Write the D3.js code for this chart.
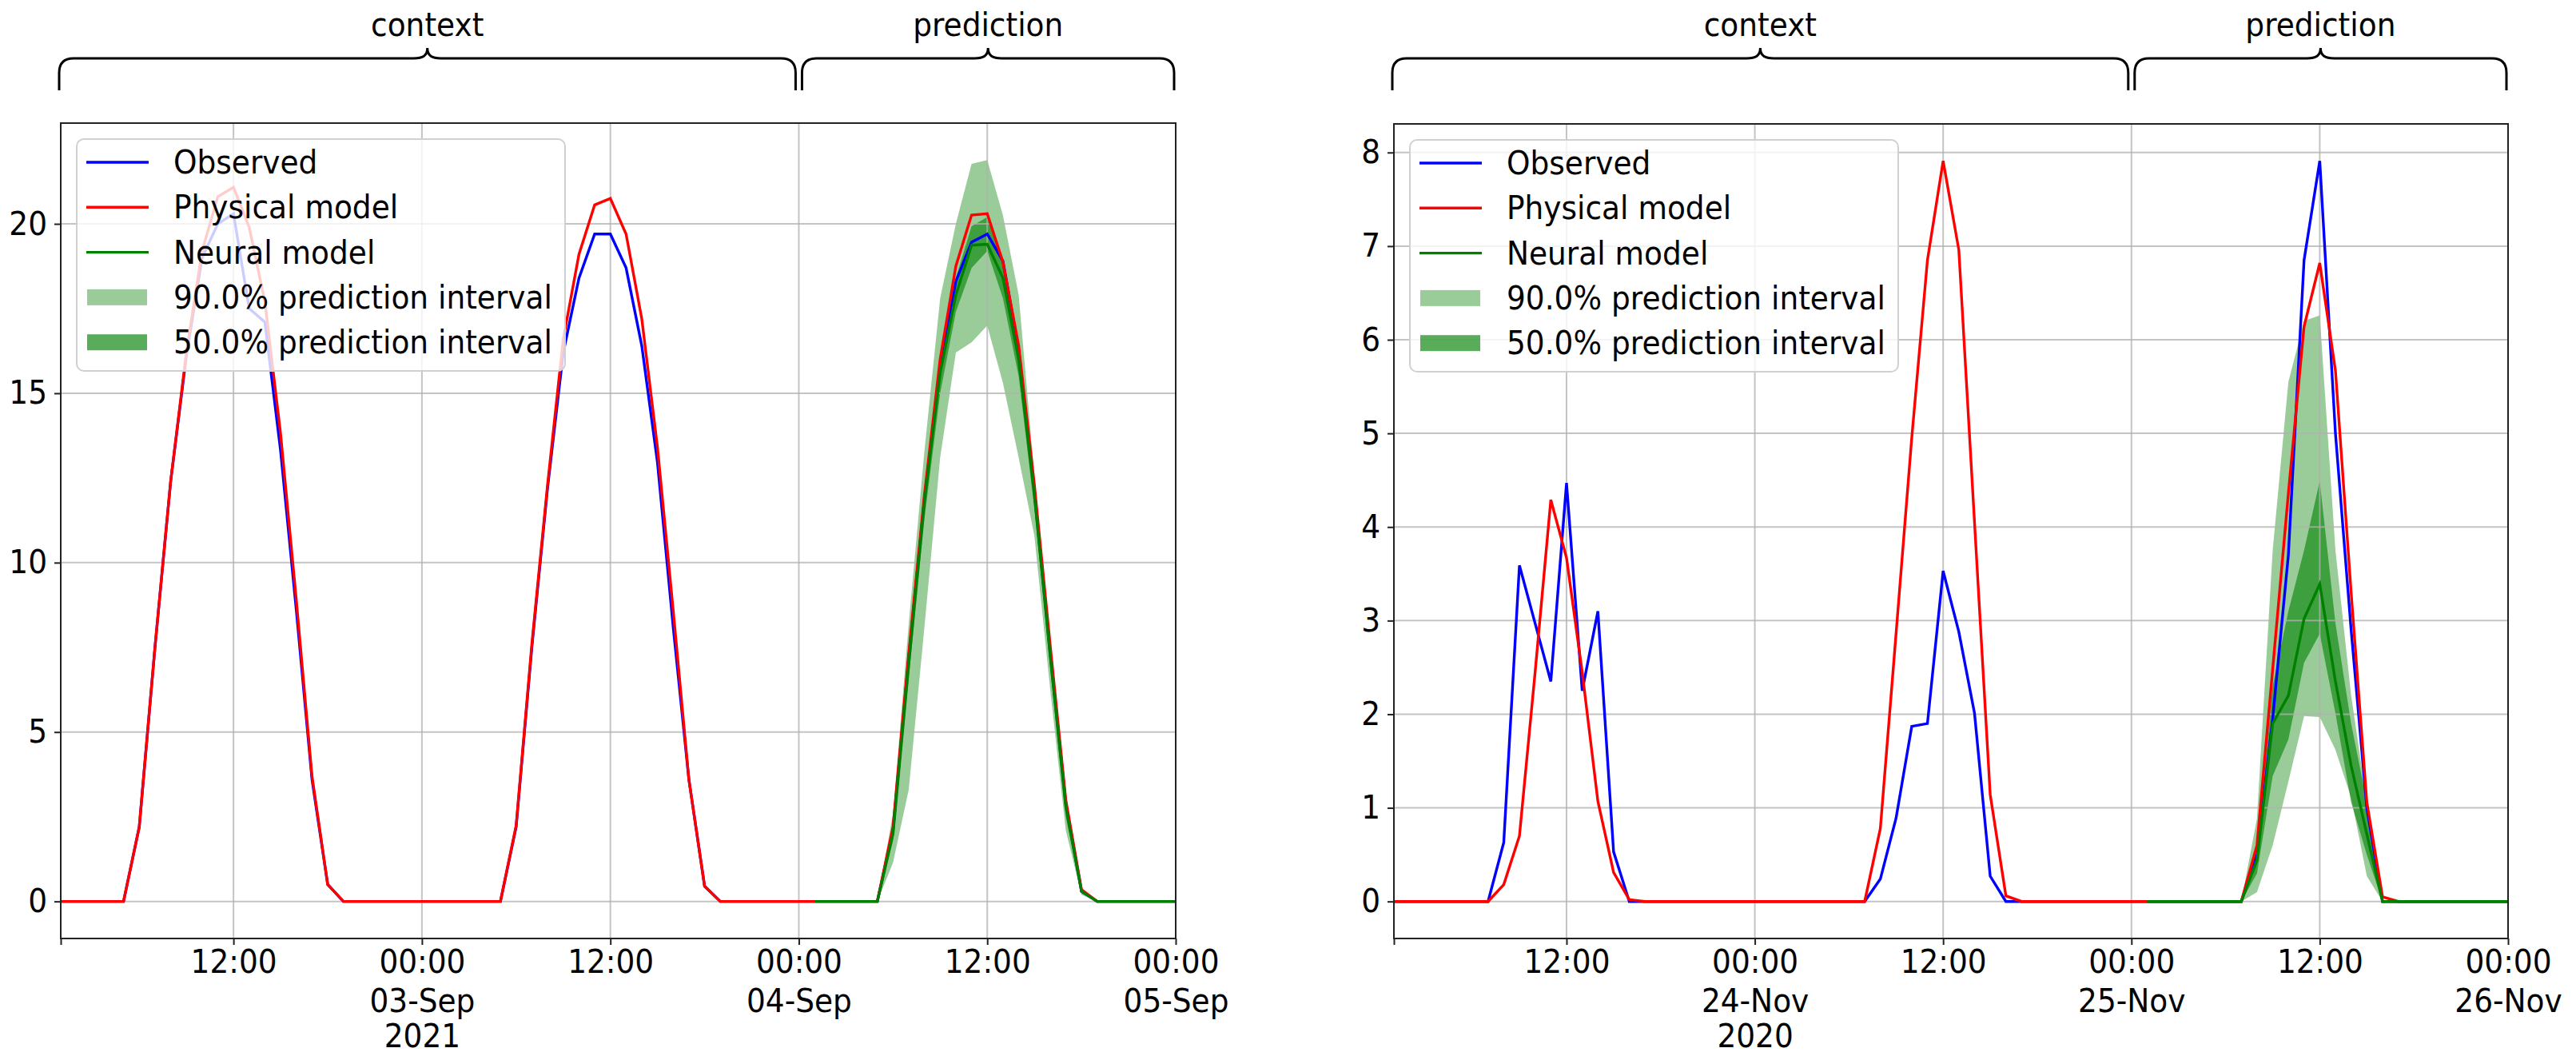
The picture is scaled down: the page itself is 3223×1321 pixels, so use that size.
<!DOCTYPE html>
<html>
<head>
<meta charset="utf-8">
<script src="https://cdn.jsdelivr.net/npm/d3@7"></script>
<style>
  body { margin: 0; background: #fff; }
  text { font-family: "DejaVu Sans", sans-serif; }
</style>
</head>
<body>
<svg id="chart" width="3223" height="1321"></svg>
<script>
// ---- data (hourly values) ----
var legendLabels = ["Observed", "Physical model", "Neural model", "90.0% prediction interval", "50.0% prediction interval"];

// left panel: 2021-09-02 01:00 .. 2021-09-05 00:00
var leftStart = "2021-09-02T01:00:00Z", leftEnd = "2021-09-05T00:00:00Z", leftSplit = "2021-09-04T00:00:00Z";
var leftObserved = [
  0, 0, 0, 0, 0, 2.2, 7.5, 12.4, 16.1, 19.0, 20.0, 20.3, 17.5, 17.1, 13.3, 8.6, 3.6, 0.5, 0, 0, 0, 0, 0, 0,
  0, 0, 0, 0, 0, 2.2, 7.5, 12.2, 16.2, 18.4, 19.7, 19.7, 18.7, 16.4, 12.95, 8.1, 3.6, 0.45, 0, 0, 0, 0, 0, 0,
  0, 0, 0, 0, 0, 2.1, 7.2, 11.9, 15.8, 18.3, 19.46, 19.7, 18.9, 16.3, 12.1, 7.4, 2.9, 0.3, 0, 0, 0, 0, 0, 0
];
var leftPhysical = [
  0, 0, 0, 0, 0, 2.2, 7.5, 12.4, 16.2, 19.2, 20.8, 21.08, 19.9, 17.7, 13.8, 8.9, 3.7, 0.5, 0, 0, 0, 0, 0, 0,
  0, 0, 0, 0, 0, 2.24, 7.6, 12.3, 16.6, 19.1, 20.56, 20.75, 19.7, 17.2, 13.4, 8.6, 3.6, 0.45, 0, 0, 0, 0, 0, 0,
  0, 0, 0, 0, 0, 2.2, 7.3, 12.0, 16.0, 18.75, 20.26, 20.3, 18.87, 16.4, 12.3, 7.6, 3.0, 0.35, 0, 0, 0, 0, 0, 0
];
var leftNeural = [0, 0, 0, 0, 0, 2.0, 7.0, 11.8, 15.6, 17.9, 19.37, 19.4, 18.4, 16.0, 12.0, 7.3, 2.8, 0.3, 0, 0, 0, 0, 0, 0];
var leftLow50  = [0, 0, 0, 0, 0, 1.8, 6.6, 11.3, 15.0, 17.4, 18.7, 19.2, 17.8, 15.5, 11.6, 6.9, 2.5, 0.25, 0, 0, 0, 0, 0, 0];
var leftHigh50 = [0, 0, 0, 0, 0, 2.2, 7.3, 12.1, 16.0, 18.4, 19.93, 20.2, 18.9, 16.4, 12.3, 7.6, 3.0, 0.35, 0, 0, 0, 0, 0, 0];
var leftLow90  = [0, 0, 0, 0, 0, 1.15, 3.3, 8.1, 13.1, 16.2, 16.5, 17.0, 15.3, 13.1, 10.8, 6.3, 2.1, 0.2, 0, 0, 0, 0, 0, 0];
var leftHigh90 = [0, 0, 0, 0, 0, 2.6, 8.2, 13.3, 17.8, 20.0, 21.77, 21.88, 20.25, 17.9, 12.6, 7.8, 3.2, 0.4, 0, 0, 0, 0, 0, 0];
var leftYTicks = [0, 5, 10, 15, 20];
var leftXTicks = ["2021-09-02T01:00:00Z", "2021-09-02T12:00:00Z", "2021-09-03T00:00:00Z", "2021-09-03T12:00:00Z",
                  "2021-09-04T00:00:00Z", "2021-09-04T12:00:00Z", "2021-09-05T00:00:00Z"];
var leftXTickLabels = [[], ["12:00"], ["00:00", "03-Sep", "2021"], ["12:00"], ["00:00", "04-Sep"], ["12:00"], ["00:00", "05-Sep"]];

// right panel: 2020-11-23 01:00 .. 2020-11-26 00:00
var rightStart = "2020-11-23T01:00:00Z", rightEnd = "2020-11-26T00:00:00Z", rightSplit = "2020-11-25T00:00:00Z";
var rightObserved = [
  0, 0, 0, 0, 0, 0, 0, 0.63, 3.59, 2.97, 2.35, 4.47, 2.25, 3.10, 0.53, 0, 0, 0, 0, 0, 0, 0, 0, 0,
  0, 0, 0, 0, 0, 0, 0, 0.24, 0.89, 1.87, 1.9, 3.53, 2.88, 2.01, 0.27, 0, 0, 0, 0, 0, 0, 0, 0, 0,
  0, 0, 0, 0, 0, 0, 0, 0.5, 1.95, 3.7, 6.85, 7.91, 5.0, 2.9, 1.0, 0, 0, 0, 0, 0, 0, 0, 0, 0
];
var rightPhysical = [
  0, 0, 0, 0, 0, 0, 0, 0.18, 0.70, 2.45, 4.29, 3.67, 2.45, 1.07, 0.31, 0.02, 0, 0, 0, 0, 0, 0, 0, 0,
  0, 0, 0, 0, 0, 0, 0, 0.78, 2.86, 4.95, 6.85, 7.91, 6.96, 4.05, 1.14, 0.06, 0, 0, 0, 0, 0, 0, 0, 0,
  0, 0, 0, 0, 0, 0, 0, 0.6, 2.48, 4.36, 6.14, 6.82, 5.67, 3.3, 1.06, 0.05, 0, 0, 0, 0, 0, 0, 0, 0
];
var rightNeural = [0, 0, 0, 0, 0, 0, 0, 0.44, 1.9, 2.2, 3.02, 3.39, 2.35, 1.45, 0.72, 0, 0, 0, 0, 0, 0, 0, 0, 0];
var rightLow50  = [0, 0, 0, 0, 0, 0, 0, 0.3, 1.34, 1.73, 2.55, 2.86, 2.01, 1.06, 0.5, 0, 0, 0, 0, 0, 0, 0, 0, 0];
var rightHigh50 = [0, 0, 0, 0, 0, 0, 0, 0.5, 2.3, 3.1, 3.75, 4.49, 2.97, 1.9, 1.06, 0, 0, 0, 0, 0, 0, 0, 0, 0];
var rightLow90  = [0, 0, 0, 0, 0, 0, 0, 0.1, 0.6, 1.28, 1.98, 1.97, 1.62, 1.11, 0.27, 0, 0, 0, 0, 0, 0, 0, 0, 0];
var rightHigh90 = [0, 0, 0, 0, 0, 0, 0, 0.89, 3.75, 5.55, 6.2, 6.26, 3.75, 2.2, 1.06, 0, 0, 0, 0, 0, 0, 0, 0, 0];
var rightYTicks = [0, 1, 2, 3, 4, 5, 6, 7, 8];
var rightXTicks = ["2020-11-23T01:00:00Z", "2020-11-23T12:00:00Z", "2020-11-24T00:00:00Z", "2020-11-24T12:00:00Z",
                   "2020-11-25T00:00:00Z", "2020-11-25T12:00:00Z", "2020-11-26T00:00:00Z"];
var rightXTickLabels = [[], ["12:00"], ["00:00", "24-Nov", "2020"], ["12:00"], ["00:00", "25-Nov"], ["12:00"], ["00:00", "26-Nov"]];

// ---- drawing ----
var svg = d3.select("#chart");
var fontSize = 37.5;
var stretch = 1.08;   // the picture's text is a little taller than wide

// text placed at (x, y) baseline, stretched vertically
function putText(g, x, y, label, anchor) {
    return g.append("text")
        .attr("transform", "translate(" + x + "," + y + ") scale(1," + stretch + ")")
        .attr("text-anchor", anchor || "start")
        .style("font-size", fontSize + "px")
        .attr("fill", "black")
        .text(label);
}

function drawBrace(g, xa, xb, label) {
    var mid = (xa + xb) / 2, yh = 73, yb = 113, yt = 60;
    var path = "M" + xa + "," + yb + " L" + xa + "," + (yh + 18) +
        " Q" + xa + "," + yh + " " + (xa + 18) + "," + yh +
        " L" + (mid - 17) + "," + yh +
        " C" + (mid - 6) + "," + yh + " " + mid + "," + (yh - 3) + " " + mid + "," + yt +
        " C" + mid + "," + (yh - 3) + " " + (mid + 6) + "," + yh + " " + (mid + 17) + "," + yh +
        " L" + (xb - 18) + "," + yh +
        " Q" + xb + "," + yh + " " + xb + "," + (yh + 18) +
        " L" + xb + "," + yb;
    g.append("path").attr("d", path)
        .attr("fill", "none").attr("stroke", "black").attr("stroke-width", 3);
    putText(g, mid, 45, label, "middle");
}

function drawPanel(p) {
    var g = svg.append("g");
    var start = new Date(p.start), end = new Date(p.end), split = new Date(p.split);

    var times = d3.utcHour.range(start, d3.utcHour.offset(end, 1));
    var predTimes = d3.utcHour.range(d3.utcHour.offset(split, 1), d3.utcHour.offset(end, 1));

    var x = d3.scaleUtc().domain([start, end]).range([p.left, p.right]);
    var all = [].concat(p.observed, p.physical, p.neural, p.low90, p.high90, p.low50, p.high50);
    var lo = d3.min(all), hi = d3.max(all), pad = (hi - lo) * 0.05;
    var y = d3.scaleLinear().domain([lo - pad, hi + pad]).range([p.bottom, p.top]);

    // prediction bands
    var band = function(low, high) {
        return d3.area()
            .x(function(d, i) { return x(predTimes[i]); })
            .y0(function(d, i) { return y(low[i]); })
            .y1(function(d, i) { return y(high[i]); })(low);
    };
    g.append("path").attr("d", band(p.low90, p.high90))
        .attr("fill", "green").attr("fill-opacity", 0.4);
    g.append("path").attr("d", band(p.low50, p.high50))
        .attr("fill", "green").attr("fill-opacity", 0.6);

    // grid
    var xTickDates = p.xTicks.map(function(t) { return new Date(t); });
    g.append("g").selectAll("line").data(xTickDates.slice(1)).enter().append("line")
        .attr("x1", function(d) { return x(d); }).attr("x2", function(d) { return x(d); })
        .attr("y1", p.top).attr("y2", p.bottom)
        .attr("stroke", "#b0b0b0").attr("stroke-width", 2).attr("stroke-opacity", 0.75);
    g.append("g").selectAll("line").data(p.yTicks).enter().append("line")
        .attr("x1", p.left).attr("x2", p.right)
        .attr("y1", function(d) { return y(d); }).attr("y2", function(d) { return y(d); })
        .attr("stroke", "#b0b0b0").attr("stroke-width", 2).attr("stroke-opacity", 0.75);

    // lines
    var line = function(ts) {
        return d3.line()
            .x(function(d, i) { return x(ts[i]); })
            .y(function(d) { return y(d); });
    };
    g.append("path").attr("d", line(times)(p.observed))
        .attr("fill", "none").attr("stroke", "blue").attr("stroke-width", 3.4);
    g.append("path").attr("d", line(times)(p.physical))
        .attr("fill", "none").attr("stroke", "red").attr("stroke-width", 3.4);
    g.append("path").attr("d", line(predTimes)(p.neural))
        .attr("fill", "none").attr("stroke", "green").attr("stroke-width", 3.4);

    // frame
    g.append("rect").attr("x", p.left).attr("y", p.top)
        .attr("width", p.right - p.left).attr("height", p.bottom - p.top)
        .attr("fill", "none").attr("stroke", "#222").attr("stroke-width", 2);

    // axes
    var xAxis = g.append("g").attr("transform", "translate(0," + p.bottom + ")")
        .call(d3.axisBottom(x).tickValues(xTickDates).tickSize(8).tickFormat(""));
    xAxis.select(".domain").remove();
    xAxis.selectAll(".tick line").attr("stroke", "#222").attr("stroke-width", 2);
    xAxis.selectAll(".tick").each(function(d, i) {
        var tick = d3.select(this);
        var baselines = [43, 92, 136];
        p.xTickLabels[i].forEach(function(s, j) {
            putText(tick, 0, baselines[j], s, "middle");
        });
    });

    var yAxis = g.append("g").attr("transform", "translate(" + p.left + ",0)")
        .call(d3.axisLeft(y).tickValues(p.yTicks).tickSize(8).tickFormat(""));
    yAxis.select(".domain").remove();
    yAxis.selectAll(".tick line").attr("stroke", "#222").attr("stroke-width", 2);
    yAxis.selectAll(".tick").each(function(d) {
        putText(d3.select(this), -17, 13, d3.format("d")(d), "end");
    });

    // legend
    var lg = g.append("g").attr("transform", "translate(" + (p.left + 20) + "," + (p.top + 20) + ")");
    lg.append("rect").attr("width", 611).attr("height", 290).attr("rx", 9)
        .attr("fill", "white").attr("fill-opacity", 0.8)
        .attr("stroke", "#d0d0d0").attr("stroke-width", 2);
    var kinds = [
        { type: "line", color: "blue" },
        { type: "line", color: "red" },
        { type: "line", color: "green" },
        { type: "patch", opacity: 0.4 },
        { type: "patch", opacity: 0.65 }
    ];
    legendLabels.forEach(function(label, i) {
        var cy = 29 + i * 56.3;
        var k = kinds[i];
        if (k.type === "line") {
            lg.append("line").attr("x1", 12).attr("x2", 90).attr("y1", cy).attr("y2", cy)
                .attr("stroke", k.color).attr("stroke-width", 3.4);
        } else {
            lg.append("rect").attr("x", 13).attr("y", cy - 10).attr("width", 75).attr("height", 20)
                .attr("fill", "green").attr("fill-opacity", k.opacity);
        }
        putText(lg, 121, cy + 14, label, "start");
    });

    // braces
    var xs = x(split);
    drawBrace(svg, p.left - 2, xs - 4, "context");
    drawBrace(svg, xs + 4, p.right - 2, "prediction");
}

drawPanel({
    left: 76, right: 1471, top: 154, bottom: 1174,
    start: leftStart, end: leftEnd, split: leftSplit,
    observed: leftObserved, physical: leftPhysical, neural: leftNeural,
    low50: leftLow50, high50: leftHigh50, low90: leftLow90, high90: leftHigh90,
    yTicks: leftYTicks, xTicks: leftXTicks, xTickLabels: leftXTickLabels
});
drawPanel({
    left: 1744, right: 3138, top: 155, bottom: 1174,
    start: rightStart, end: rightEnd, split: rightSplit,
    observed: rightObserved, physical: rightPhysical, neural: rightNeural,
    low50: rightLow50, high50: rightHigh50, low90: rightLow90, high90: rightHigh90,
    yTicks: rightYTicks, xTicks: rightXTicks, xTickLabels: rightXTickLabels
});
</script>
</body>
</html>
